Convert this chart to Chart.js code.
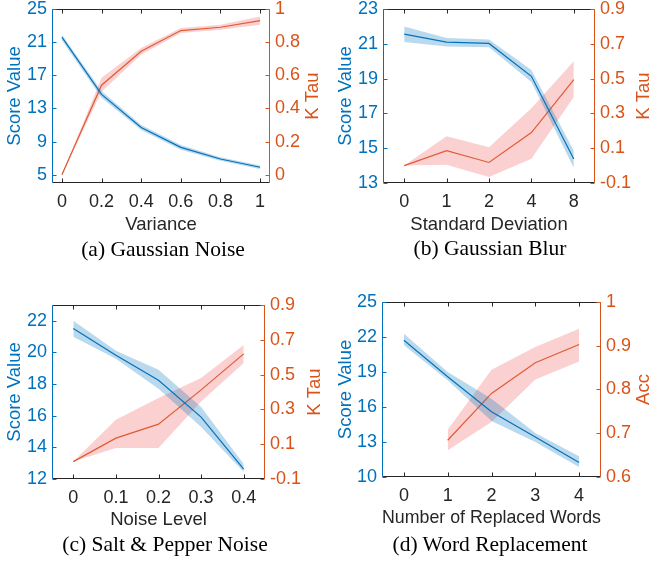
<!doctype html>
<html>
<head>
<meta charset="utf-8">
<script src="https://cdn.jsdelivr.net/npm/chart.js"></script>
<style>
    body {
        margin: 0px;
        background-color: #fff;
    }

    .page {
        position: relative;
        width: 652px;
        height: 562px;
    }

    .page canvas {
        position: absolute;
    }

    .caption {
        position: absolute;
        width: 326px;
        text-align: center;
        font-family: "Liberation Serif", "Times New Roman", serif;
        font-size: 21.5px;
        line-height: 22px;
        color: #000;
    }
</style>
</head>
<body>
<div class="page">
    <canvas id="chartA" width="326" height="240" style="left:0px;top:0px"></canvas>
    <canvas id="chartB" width="326" height="240" style="left:326px;top:0px"></canvas>
    <canvas id="chartC" width="326" height="260" style="left:0px;top:280px"></canvas>
    <canvas id="chartD" width="326" height="260" style="left:326px;top:280px"></canvas>

    <div class="caption" style="left:0px;top:238px">(a) Gaussian Noise</div>
    <div class="caption" style="left:327px;top:237px">(b) Gaussian Blur</div>
    <div class="caption" style="left:2px;top:533px">(c) Salt &amp; Pepper Noise</div>
    <div class="caption" style="left:327px;top:533px">(d) Word Replacement</div>
</div>

<script>
// (a) Gaussian Noise
const varianceX = [0, 0.2, 0.4, 0.6, 0.8, 1];
const varianceTicks = [0, 0.2, 0.4, 0.6, 0.8, 1];
const varianceLabels = ['0', '0.2', '0.4', '0.6', '0.8', '1'];
const noiseScore = [21.6, 14.7, 10.7, 8.3, 6.9, 5.9];
const noiseScoreLo = [21.2, 14.3, 10.4, 8.0, 6.7, 5.7];
const noiseScoreHi = [21.9, 15.1, 11.0, 8.6, 7.1, 6.1];
const noiseTau = [0, 0.54, 0.745, 0.87, 0.89, 0.93];
const noiseTauLo = [0, 0.5, 0.725, 0.855, 0.875, 0.905];
const noiseTauHi = [0, 0.585, 0.765, 0.885, 0.905, 0.955];
const noiseScoreTicks = [5, 9, 13, 17, 21, 25];
const noiseTauTicks = [0, 0.2, 0.4, 0.6, 0.8, 1];
const noiseTauLabels = ['0', '0.2', '0.4', '0.6', '0.8', '1'];

// (b) Gaussian Blur
const blurX = [0, 1, 2, 3, 4];
const blurLabels = ['0', '1', '2', '4', '8'];
const blurScore = [21.56, 21.1, 21.02, 19.13, 14.38];
const blurScoreLo = [21.1, 20.85, 20.8, 18.8, 13.86];
const blurScoreHi = [22.0, 21.33, 21.25, 19.5, 14.85];
const blurTau = [0, 0.086, 0.018, 0.19, 0.494];
const blurTauLo = [0, 0.005, -0.066, 0.04, 0.394];
const blurTauHi = [0, 0.168, 0.105, 0.33, 0.6];
const blurScoreTicks = [13, 15, 17, 19, 21, 23];
const tauTicks = [-0.1, 0.1, 0.3, 0.5, 0.7, 0.9];
const tauLabels = ['-0.1', '0.1', '0.3', '0.5', '0.7', '0.9'];

// (c) Salt & Pepper Noise
const levelX = [0, 0.1, 0.2, 0.3, 0.4];
const levelLabels = ['0', '0.1', '0.2', '0.3', '0.4'];
const spScore = [21.52, 19.83, 18.24, 15.91, 12.62];
const spScoreLo = [21.0, 19.6, 17.7, 15.28, 12.45];
const spScoreHi = [22.0, 20.1, 18.9, 16.55, 12.95];
const spTau = [0, 0.135, 0.215, 0.412, 0.619];
const spTauLo = [0, 0.078, 0.078, 0.345, 0.566];
const spTauHi = [0, 0.24, 0.365, 0.48, 0.67];
const spScoreTicks = [12, 14, 16, 18, 20, 22];

// (d) Word Replacement
const wordsX = [0, 1, 2, 3, 4];
const wordsLabels = ['0', '1', '2', '3', '4'];
const wordScore = [21.72, 18.6, 15.6, 13.43, 11.24];
const wordScoreLo = [21.29, 18.3, 14.8, 13.0, 10.86];
const wordScoreHi = [22.29, 19.0, 16.7, 13.77, 11.78];
const accX = [1, 2, 3, 4];
const wordAcc = [0.684, 0.791, 0.861, 0.903];
const wordAccLo = [0.661, 0.726, 0.823, 0.864];
const wordAccHi = [0.708, 0.845, 0.897, 0.939];
const wordScoreTicks = [10, 13, 16, 19, 22, 25];
const accTicks = [0.6, 0.7, 0.8, 0.9, 1];
const accLabels = ['0.6', '0.7', '0.8', '0.9', '1'];

const BLUE = '#0072BD';
const ORANGE = '#D95319';
const GRAY = '#262626';
const BLUE_BAND = 'rgba(0, 114, 189, 0.27)';
const RED_BAND = 'rgba(240, 110, 110, 0.32)';
const FONT = '"Liberation Sans", Arial, sans-serif';
const TITLE_SIZE = 18.5;

Chart.defaults.font.family = FONT;
Chart.defaults.font.size = 18;

function pts(xs, ys) {
    return xs.map((x, i) => ({ x: x, y: ys[i] }));
}

function setTicks(vals) {
    return function (scale) {
        scale.ticks = vals.map(v => ({ value: v }));
    };
}

// matlab style box: gray top/bottom, coloured sides, ticks pointing in,
// plus the right axis title reading bottom to top
const framePlugin = {
    id: 'frame',
    afterDraw(chart, args, opts) {
        const ctx = chart.ctx;
        const a = chart.chartArea;
        const s = chart.scales;
        const L = Math.round(a.left) + 0.5;
        const R = Math.round(a.right) - 0.5;
        const T = Math.round(a.top) + 0.5;
        const B = Math.round(a.bottom) - 0.5;
        ctx.save();
        ctx.lineWidth = 1;

        ctx.strokeStyle = GRAY;
        ctx.beginPath();
        ctx.moveTo(L, T); ctx.lineTo(R, T);
        ctx.moveTo(L, B); ctx.lineTo(R, B);
        s.x.ticks.forEach(t => {
            const px = Math.round(s.x.getPixelForValue(t.value)) + 0.5;
            ctx.moveTo(px, B); ctx.lineTo(px, B - 4);
            ctx.moveTo(px, T); ctx.lineTo(px, T + 4);
        });
        ctx.stroke();

        ctx.strokeStyle = BLUE;
        ctx.beginPath();
        ctx.moveTo(L, T); ctx.lineTo(L, B);
        s.y.ticks.forEach(t => {
            const py = Math.round(s.y.getPixelForValue(t.value)) + 0.5;
            ctx.moveTo(L, py); ctx.lineTo(L + 4, py);
        });
        ctx.stroke();

        ctx.strokeStyle = ORANGE;
        ctx.beginPath();
        ctx.moveTo(R, T); ctx.lineTo(R, B);
        s.y1.ticks.forEach(t => {
            const py = Math.round(s.y1.getPixelForValue(t.value)) + 0.5;
            ctx.moveTo(R, py); ctx.lineTo(R - 4, py);
        });
        ctx.stroke();

        ctx.translate(chart.width - opts.offset, (a.top + a.bottom) / 2);
        ctx.rotate(-Math.PI / 2);
        ctx.fillStyle = ORANGE;
        ctx.font = TITLE_SIZE + 'px ' + FONT;
        ctx.textAlign = 'center';
        ctx.textBaseline = 'middle';
        ctx.fillText(opts.title, 0, 0);
        ctx.restore();
    }
};

function band(data, color, axis, fillNext) {
    return {
        data: data,
        yAxisID: axis,
        borderWidth: 0,
        pointRadius: 0,
        backgroundColor: color,
        fill: fillNext ? '+1' : false
    };
}

function line(data, color, axis) {
    return {
        data: data,
        yAxisID: axis,
        borderColor: color,
        borderWidth: 1.2,
        pointRadius: 0,
        fill: false
    };
}

function makePanel(id, p) {
    const fixWidth = (w) => function (scale) {
        scale.width = w;
        scale.paddingTop = 0;
        scale.paddingBottom = 0;
    };
    return new Chart(document.getElementById(id), {
        type: 'line',
        data: {
            datasets: [
                band(p.leftHi, BLUE_BAND, 'y', true),
                band(p.leftLo, BLUE_BAND, 'y', false),
                line(p.left, BLUE, 'y'),
                band(p.rightHi, RED_BAND, 'y1', true),
                band(p.rightLo, RED_BAND, 'y1', false),
                line(p.right, ORANGE, 'y1')
            ]
        },
        options: {
            responsive: false,
            animation: false,
            elements: { line: { tension: 0 } },
            layout: { padding: { top: p.box.top, bottom: p.box.bottom, left: 0, right: 0 } },
            plugins: {
                legend: { display: false },
                tooltip: { enabled: false },
                frame: { title: p.y1Title, offset: p.box.rt }
            },
            scales: {
                x: {
                    type: 'linear',
                    min: p.xMin,
                    max: p.xMax,
                    afterBuildTicks: setTicks(p.xTicks),
                    afterFit: function (scale) {
                        scale.height = p.box.xh;
                        scale.paddingLeft = 0;
                        scale.paddingRight = 0;
                    },
                    grid: { display: false, drawTicks: false },
                    border: { display: false },
                    ticks: {
                        color: GRAY,
                        padding: 8,
                        autoSkip: false,
                        maxRotation: 0,
                        callback: (v, i) => p.xLabels[i]
                    },
                    title: { display: true, text: p.xTitle, color: GRAY, font: { size: TITLE_SIZE }, padding: 4 }
                },
                y: {
                    position: 'left',
                    min: p.yMin,
                    max: p.yMax,
                    afterBuildTicks: setTicks(p.yTicks),
                    afterFit: fixWidth(p.box.left),
                    grid: { display: false, drawTicks: false },
                    border: { display: false },
                    ticks: { color: BLUE, padding: 5, autoSkip: false, callback: (v, i) => String(p.yTicks[i]) },
                    title: { display: true, text: 'Score Value', color: BLUE, font: { size: TITLE_SIZE }, padding: { top: p.box.lt, bottom: 0 } }
                },
                y1: {
                    position: 'right',
                    min: p.y1Min,
                    max: p.y1Max,
                    afterBuildTicks: setTicks(p.y1Ticks),
                    afterFit: fixWidth(p.box.right),
                    grid: { display: false, drawTicks: false },
                    border: { display: false },
                    ticks: { color: ORANGE, padding: 5, autoSkip: false, callback: (v, i) => p.y1Labels[i] }
                }
            }
        },
        plugins: [framePlugin]
    });
}

makePanel('chartA', {
    xMin: -0.05, xMax: 1.05, xTicks: varianceTicks, xLabels: varianceLabels, xTitle: 'Variance',
    left: pts(varianceX, noiseScore), leftLo: pts(varianceX, noiseScoreLo), leftHi: pts(varianceX, noiseScoreHi),
    right: pts(varianceX, noiseTau), rightLo: pts(varianceX, noiseTauLo), rightHi: pts(varianceX, noiseTauHi),
    yMin: 4, yMax: 25, yTicks: noiseScoreTicks,
    y1Min: -0.05, y1Max: 1, y1Ticks: noiseTauTicks, y1Labels: noiseTauLabels, y1Title: 'K Tau',
    box: { left: 52, right: 56, top: 9, bottom: 0, xh: 57, lt: 4, rt: 12.7 }
});

makePanel('chartB', {
    xMin: -0.5, xMax: 4.5, xTicks: blurX, xLabels: blurLabels, xTitle: 'Standard Deviation',
    left: pts(blurX, blurScore), leftLo: pts(blurX, blurScoreLo), leftHi: pts(blurX, blurScoreHi),
    right: pts(blurX, blurTau), rightLo: pts(blurX, blurTauLo), rightHi: pts(blurX, blurTauHi),
    yMin: 13, yMax: 23, yTicks: blurScoreTicks,
    y1Min: -0.1, y1Max: 0.9, y1Ticks: tauTicks, y1Labels: tauLabels, y1Title: 'K Tau',
    box: { left: 57, right: 57, top: 9, bottom: 0, xh: 57, lt: 9, rt: 8.5 }
});

makePanel('chartC', {
    xMin: -0.05, xMax: 0.45, xTicks: levelX, xLabels: levelLabels, xTitle: 'Noise Level',
    left: pts(levelX, spScore), leftLo: pts(levelX, spScoreLo), leftHi: pts(levelX, spScoreHi),
    right: pts(levelX, spTau), rightLo: pts(levelX, spTauLo), rightHi: pts(levelX, spTauHi),
    yMin: 12, yMax: 23, yTicks: spScoreTicks,
    y1Min: -0.1, y1Max: 0.9, y1Ticks: tauTicks, y1Labels: tauLabels, y1Title: 'K Tau',
    box: { left: 52, right: 61, top: 25, bottom: 5, xh: 56, lt: 4, rt: 11 }
});

makePanel('chartD', {
    xMin: -0.5, xMax: 4.5, xTicks: wordsX, xLabels: wordsLabels, xTitle: 'Number of Replaced Words',
    left: pts(wordsX, wordScore), leftLo: pts(wordsX, wordScoreLo), leftHi: pts(wordsX, wordScoreHi),
    right: pts(accX, wordAcc), rightLo: pts(accX, wordAccLo), rightHi: pts(accX, wordAccHi),
    yMin: 10, yMax: 25, yTicks: wordScoreTicks,
    y1Min: 0.6, y1Max: 1, y1Ticks: accTicks, y1Labels: accLabels, y1Title: 'Acc',
    box: { left: 56, right: 51, top: 22, bottom: 7, xh: 56, lt: 9, rt: 8 }
});
</script>
</body>
</html>
